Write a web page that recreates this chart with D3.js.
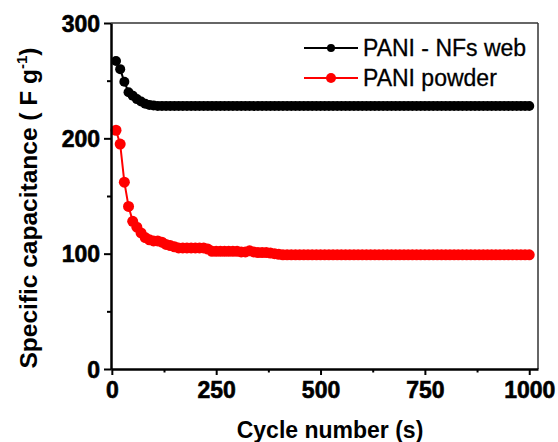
<!DOCTYPE html>
<html>
<head>
<meta charset="utf-8">
<script src="https://cdn.jsdelivr.net/npm/d3@7"></script>
<style>
  html, body { margin: 0; padding: 0; background: #fff; }
  svg { display: block; }
  text { font-family: "Liberation Sans", Arial, sans-serif; fill: #000; }
</style>
</head>
<body>
<svg id="chart" width="558" height="442"></svg>
<script>
// ---- data ----
const cycles = [10,20,30,40,50,60,70,80,90,100,110,120,130,140,150,160,170,180,190,200,
  210,220,230,240,250,260,270,280,290,300,310,320,330,340,350,360,370,380,390,400,
  410,420,430,440,450,460,470,480,490,500,510,520,530,540,550,560,570,580,590,600,
  610,620,630,640,650,660,670,680,690,700,710,720,730,740,750,760,770,780,790,800,
  810,820,830,840,850,860,870,880,890,900,910,920,930,940,950,960,970,980,990,1000];

const nfsWeb = [267,260,249,240,237,234,232,230,229,228.5,228,228,228,228,228,228,228,228,228,228,
  228,228,228,228,228,228,228,228,228,228,228,228,228,228,228,228,228,228,228,228,
  228,228,228,228,228,228,228,228,228,228,228,228,228,228,228,228,228,228,228,228,
  228,228,228,228,228,228,228,228,228,228,228,228,228,228,228,228,228,228,228,228,
  228,228,228,228,228,228,228,228,228,228,228,228,228,228,228,228,228,228,228,228];

const powder = [207,195,162,141,128,123,118,114,112,111,111,110,108,107,106,105,105,105,105,105,
  105,105,104,102,102,102,102,102,102,102,101.5,101.5,102.5,101.5,101,101,101,100.5,100,99.5,
  99,99,99,99,99,99,99,99,99,99,99,99,99,99,99,99,99,99,99,99,
  99,99,99,99,99,99,99,99,99,99,99,99,99,99,99,99,99,99,99,99,
  99,99,99,99,99,99,99,99,99,99,99,99,99,99,99,99,99,99,99,99];

const seriesNames = ["PANI - NFs web", "PANI powder"];
const seriesColors = ["#000000", "#ff0000"];
const xTicks = [0, 250, 500, 750, 1000];
const xMinor = [125, 375, 625, 875];
const yTicks = [0, 100, 200, 300];
const yMinor = [50, 150, 250];

// ---- layout ----
const svg = d3.select("#chart");
const L = 111, R = 538, T = 23, B = 369;
const x = d3.scaleLinear().domain([-2, 1021]).range([L, R]);
const y = d3.scaleLinear().domain([0, 300]).range([B, T]);

// frame top/right
svg.append("line").attr("x1", L).attr("x2", R).attr("y1", T).attr("y2", T)
  .attr("stroke", "#333").attr("stroke-width", 1.5);
svg.append("line").attr("x1", R).attr("x2", R).attr("y1", T).attr("y2", B)
  .attr("stroke", "#333").attr("stroke-width", 1.5);

// data
const series = [nfsWeb, powder];
series.forEach((vals, si) => {
  const pts = cycles.map((c, i) => [c, vals[i]]);
  const line = d3.line().x(d => x(d[0])).y(d => y(d[1]));
  svg.append("path").datum(pts).attr("d", line)
    .attr("fill", "none").attr("stroke", seriesColors[si]).attr("stroke-width", 2);
  svg.append("g").selectAll("circle").data(pts).join("circle")
    .attr("cx", d => x(d[0])).attr("cy", d => y(d[1]))
    .attr("r", si === 0 ? 5 : 5.5).attr("fill", seriesColors[si]);
});

// axes
const xAxis = svg.append("g").attr("transform", `translate(0,${B})`)
  .call(d3.axisBottom(x).tickValues(xTicks).tickSize(6).tickSizeOuter(0).tickFormat(d3.format("d")));
const xAxisMinor = svg.append("g").attr("transform", `translate(0,${B})`)
  .call(d3.axisBottom(x).tickValues(xMinor).tickSize(3.5).tickSizeOuter(0).tickFormat(""));
const yAxis = svg.append("g").attr("transform", `translate(${L},0)`)
  .call(d3.axisLeft(y).tickValues(yTicks).tickSize(7).tickSizeOuter(0).tickFormat(d3.format("d")));
const yAxisMinor = svg.append("g").attr("transform", `translate(${L},0)`)
  .call(d3.axisLeft(y).tickValues(yMinor).tickSize(4).tickSizeOuter(0).tickFormat(""));

[xAxis, xAxisMinor, yAxis, yAxisMinor].forEach(g => {
  g.selectAll(".domain").attr("stroke", "#000").attr("stroke-width", 2.5);
  g.selectAll(".tick line").attr("stroke", "#000").attr("stroke-width", 2);
});
xAxisMinor.select(".domain").remove();
yAxisMinor.select(".domain").remove();

xAxis.selectAll(".tick text")
  .attr("font-family", "Liberation Sans, Arial, sans-serif")
  .attr("font-size", 23).attr("font-weight", "bold").attr("fill", "#000")
  .attr("stroke", "#000").attr("stroke-width", 0.6)
  .attr("dy", null).attr("y", 29);
yAxis.selectAll(".tick text")
  .attr("font-family", "Liberation Sans, Arial, sans-serif")
  .attr("font-size", 23).attr("font-weight", "bold").attr("fill", "#000")
  .attr("stroke", "#000").attr("stroke-width", 0.6)
  .attr("dy", null).attr("x", -11).attr("y", 8.3);

// axis titles
svg.append("text").attr("x", 330).attr("y", 438).attr("text-anchor", "middle")
  .attr("font-size", 23).attr("font-weight", "bold").text("Cycle number (s)");

const yl = svg.append("text").attr("transform", "translate(37,208) rotate(-90)")
  .attr("text-anchor", "middle").attr("font-size", 24.5).attr("font-weight", "bold");
yl.append("tspan").text("Specific capacitance ( F g");
yl.append("tspan").attr("font-size", 15).attr("dy", -10).text("-1");
yl.append("tspan").attr("dy", 10).text(")");

// legend
const legendRows = [48, 78];
seriesNames.forEach((name, i) => {
  const ly = legendRows[i];
  svg.append("line").attr("x1", 304).attr("x2", 358).attr("y1", ly).attr("y2", ly)
    .attr("stroke", seriesColors[i]).attr("stroke-width", 2);
  svg.append("circle").attr("cx", 331).attr("cy", ly).attr("r", i === 0 ? 4 : 5)
    .attr("fill", seriesColors[i]);
  svg.append("text").attr("x", 363).attr("y", ly + 8).attr("font-size", 23)
    .attr("stroke", "#000").attr("stroke-width", 0.3).text(name);
});
</script>
</body>
</html>
